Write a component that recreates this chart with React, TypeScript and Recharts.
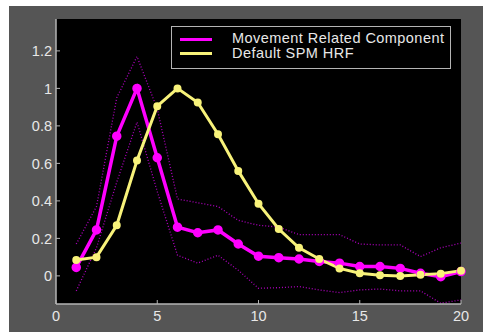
import {
  ComposedChart,
  Line,
  XAxis,
  YAxis,
  CartesianGrid,
  Legend,
} from "recharts";

const scans = [1, 2, 3, 4, 5, 6, 7, 8, 9, 10, 11, 12, 13, 14, 15, 16, 17, 18, 19, 20];
const movement = [0.045, 0.245, 0.745, 1.0, 0.63, 0.26, 0.23, 0.245, 0.17, 0.105, 0.097, 0.09, 0.077, 0.068, 0.05, 0.05, 0.04, 0.014, -0.004, 0.023];
const upperBound = [0.17, 0.37, 0.95, 1.17, 0.89, 0.41, 0.39, 0.37, 0.296, 0.27, 0.26, 0.22, 0.22, 0.22, 0.17, 0.165, 0.165, 0.103, 0.15, 0.175];
const lowerBound = [-0.08, 0.15, 0.5, 0.82, 0.45, 0.11, 0.068, 0.11, 0.03, -0.066, -0.063, -0.057, -0.075, -0.089, -0.075, -0.07, -0.08, -0.08, -0.146, -0.128];
const spmHrf = [0.085, 0.1, 0.27, 0.615, 0.905, 1.0, 0.925, 0.755, 0.56, 0.385, 0.25, 0.15, 0.09, 0.04, 0.014, 0.003, 0.0, 0.006, 0.012, 0.028];

const xTicks = [0, 5, 10, 15, 20];
const yTicks = [0, 0.2, 0.4, 0.6, 0.8, 1, 1.2];
const seriesNames = ["Movement Related Component", "Default SPM HRF"];

const MAGENTA = "#ff00ff";
const YELLOW = "#f8f27a";
const DOTTED = "#b000c0";
const FRAME = "#b4b4b4";
const TEXT = "#e8e8e8";
const FONT = "'Liberation Sans', Arial, sans-serif";

const data = scans.map((x, i) => ({
  x,
  movement: movement[i],
  upper: upperBound[i],
  lower: lowerBound[i],
  hrf: spmHrf[i],
}));

function BoxLegend() {
  const colors = [MAGENTA, YELLOW];
  return (
    <div
      style={{
        position: "relative",
        width: 278,
        height: 41,
        background: "#000",
        border: `1px solid ${FRAME}`,
        fontFamily: FONT,
        fontSize: 14.5,
        letterSpacing: 0.45,
        color: TEXT,
      }}
    >
      {seriesNames.map((name, i) => (
        <div key={name}>
          <div
            style={{
              position: "absolute",
              left: 8,
              top: 11 + i * 14,
              width: 32,
              height: 3,
              background: colors[i],
            }}
          />
          <div
            style={{
              position: "absolute",
              left: 60,
              top: 4 + i * 14.5,
              lineHeight: "14.5px",
              whiteSpace: "nowrap",
            }}
          >
            {name}
          </div>
        </div>
      ))}
    </div>
  );
}

export default function App() {
  const tickStyle = { fill: TEXT, fontSize: 14.5, fontFamily: FONT };
  return (
    <div style={{ position: "absolute", left: 0, top: 0, width: 483, height: 333, background: "#fff" }}>
      <div style={{ position: "absolute", left: 9, top: 6, width: 474, height: 326, background: "#555555" }}>
        <ComposedChart
          width={474}
          height={326}
          data={data}
          margin={{ top: 13, right: 22, bottom: 0, left: 0 }}
        >
          <CartesianGrid fill="#000" horizontal={false} vertical={false} />
          <XAxis
            xAxisId="b"
            dataKey="x"
            type="number"
            domain={[0, 20]}
            ticks={xTicks}
            height={28}
            tick={tickStyle}
            tickSize={-4}
            tickMargin={11}
            tickLine={{ stroke: FRAME }}
            axisLine={{ stroke: FRAME, strokeWidth: 1.5 }}
          />
          <XAxis
            xAxisId="t"
            orientation="top"
            dataKey="x"
            type="number"
            domain={[0, 20]}
            ticks={xTicks}
            height={0}
            tick={false}
            axisLine={{ stroke: FRAME, strokeWidth: 1.5 }}
          />
          <XAxis
            xAxisId="t2"
            orientation="top"
            dataKey="x"
            type="number"
            domain={[0, 20]}
            ticks={xTicks}
            height={0}
            tickSize={-4}
            tickFormatter={() => ""}
            tickLine={{ stroke: FRAME }}
            axisLine={false}
          />
          <YAxis
            yAxisId="l"
            type="number"
            domain={[-0.15, 1.37]}
            ticks={yTicks}
            width={47}
            tick={tickStyle}
            tickSize={-4}
            tickMargin={8}
            tickLine={{ stroke: FRAME }}
            axisLine={{ stroke: FRAME, strokeWidth: 1.5 }}
          />
          <YAxis
            yAxisId="r"
            orientation="right"
            type="number"
            domain={[-0.15, 1.37]}
            ticks={yTicks}
            width={0}
            tickSize={-4}
            tickFormatter={() => ""}
            tickLine={{ stroke: FRAME }}
            axisLine={{ stroke: FRAME, strokeWidth: 1.5 }}
          />
          <Legend
            content={() => <BoxLegend />}
            layout="horizontal"
            verticalAlign="middle"
            align="center"
            wrapperStyle={{ left: 162, top: 20, width: 280, height: 43 }}
          />
          <Line
            xAxisId="b"
            yAxisId="l"
            dataKey="upper"
            stroke={DOTTED}
            strokeWidth={1.3}
            strokeDasharray="1 2"
            dot={false}
            isAnimationActive={false}
            legendType="none"
          />
          <Line
            xAxisId="b"
            yAxisId="l"
            dataKey="lower"
            stroke={DOTTED}
            strokeWidth={1.3}
            strokeDasharray="1 2"
            dot={false}
            isAnimationActive={false}
            legendType="none"
          />
          <Line
            xAxisId="b"
            yAxisId="l"
            dataKey="movement"
            name={seriesNames[0]}
            stroke={MAGENTA}
            strokeWidth={3.5}
            dot={{ r: 3, fill: MAGENTA, stroke: MAGENTA }}
            isAnimationActive={false}
          />
          <Line
            xAxisId="b"
            yAxisId="l"
            dataKey="hrf"
            name={seriesNames[1]}
            stroke={YELLOW}
            strokeWidth={3}
            dot={{ r: 2.5, fill: YELLOW, stroke: YELLOW }}
            isAnimationActive={false}
          />
        </ComposedChart>
      </div>
    </div>
  );
}
